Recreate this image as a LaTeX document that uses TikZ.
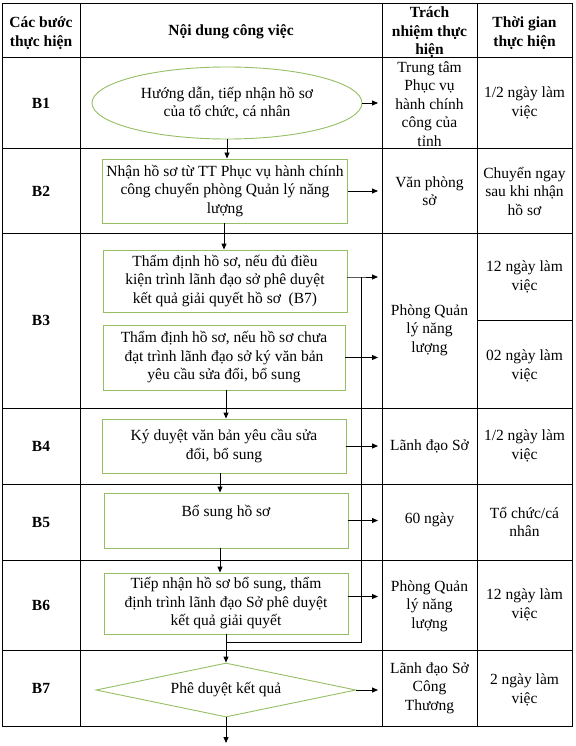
\documentclass[tikz,border=0pt]{standalone}
\usepackage{fontspec}
\setmainfont{Liberation Serif}
\usetikzlibrary{arrows.meta,shapes.geometric}
\definecolor{boxgreen}{RGB}{150,190,100}
\begin{document}
\begin{tikzpicture}[x=1pt,y=-1pt,
  txt/.style={font=\fontsize{15.5}{18.5}\selectfont, align=center, inner sep=0pt},
  hdr/.style={txt, font=\fontsize{15.5}{18.5}\selectfont\bfseries},
  gridline/.style={line width=1pt, black},
  gbox/.style={draw=boxgreen, line width=0.9pt, txt},
  arr/.style={-{Triangle[length=6pt,width=5pt]}, line width=0.9pt},
  conn/.style={line width=0.9pt}
]
\useasboundingbox (0,0) rectangle (575,746);
% table grid
\draw[gridline] (2.5,4) rectangle (572,726);
\foreach \x in {80,382,477} \draw[gridline] (\x,4) -- (\x,726);
\foreach \y in {58,149,233,408,484,560,650} \draw[gridline] (2.5,\y) -- (572,\y);
\draw[gridline] (477,320) -- (572,320);
% header
\node[hdr] (h1) at (41,33) {Các bước\\thực hiện};
\node[hdr] (h2) at (231,32) {Nội dung công việc};
\node[hdr] (h3) at (429.5,32.5) {Trách\\nhiệm thực\\hiện};
\node[hdr] (h4) at (524.5,33) {Thời gian\\thực hiện};
% step labels
\node[hdr] (b1) at (41,103.5) {B1};
\node[hdr] (b2) at (41,191) {B2};
\node[hdr] (b3) at (41,320) {B3};
\node[hdr] (b4) at (41,446) {B4};
\node[hdr] (b5) at (41,522) {B5};
\node[hdr] (b6) at (41,605) {B6};
\node[hdr] (b7) at (41,688) {B7};
% flow shapes
\node[gbox, ellipse, minimum width=270, minimum height=72] (s1) at (227,103) {Hướng dẫn, tiếp nhận hồ sơ\\của tổ chức, cá nhân};
\node[gbox, minimum width=245, minimum height=64] (s2) at (225,191) {Nhận hồ sơ từ TT Phục vụ hành chính\\công chuyển phòng Quản lý năng\\lượng};
\node[gbox, minimum width=244, minimum height=62] (s3a) at (225,281) {Thẩm định hồ sơ, nếu đủ điều\\kiện trình lãnh đạo sở phê duyệt\\kết quả giải quyết hồ sơ\ \ (B7)};
\node[gbox, minimum width=242, minimum height=65] (s3b) at (224,357.5) {Thẩm định hồ sơ, nếu hồ sơ chưa\\đạt trình lãnh đạo sở ký văn bản\\yêu cầu sửa đổi, bổ sung};
\node[gbox, minimum width=244, minimum height=54] (s4) at (224,446) {Ký duyệt văn bản yêu cầu sửa\\đổi, bổ sung};
\node[gbox, minimum width=244, minimum height=55] (s5) at (226,520.5) {Bổ sung hồ sơ\\\mbox{}};
\node[gbox, minimum width=244, minimum height=61] (s6) at (226,603.5) {Tiếp nhận hồ sơ bổ sung, thẩm\\định trình lãnh đạo Sở phê duyệt\\kết quả giải quyết};
\node[gbox, diamond, aspect=4.8, minimum width=260, minimum height=54] (s7) at (226,690) {Phê duyệt kết quả};
% responsibility / time columns
\node[txt] (r1) at (429.5,104) {Trung tâm\\Phục vụ\\hành chính\\công của\\tỉnh};
\node[txt] (t1) at (524.5,103) {1/2 ngày làm\\việc};
\node[txt] (r2) at (429.5,191) {Văn phòng\\sở};
\node[txt] (t2) at (524.5,191) {Chuyển ngay\\sau khi nhận\\hồ sơ};
\node[txt] (r3) at (429.5,330) {Phòng Quản\\lý năng\\lượng};
\node[txt] (t3a) at (524.5,277) {12 ngày làm\\việc};
\node[txt] (t3b) at (524.5,366) {02 ngày làm\\việc};
\node[txt] (r4) at (429.5,446) {Lãnh đạo Sở};
\node[txt] (t4) at (524.5,446) {1/2 ngày làm\\việc};
\node[txt] (r5) at (429.5,520) {60 ngày};
\node[txt] (t5) at (524.5,522) {Tổ chức/cá\\nhân};
\node[txt] (r6) at (429.5,606) {Phòng Quản\\lý năng\\lượng};
\node[txt] (t6) at (524.5,605) {12 ngày làm\\việc};
\node[txt] (r7) at (429.5,688) {Lãnh đạo Sở\\Công\\Thương};
\node[txt] (t7) at (524.5,690) {2 ngày làm\\việc};
% helper coordinates
\coordinate (tip) at (378,0);
\coordinate (j) at (361,277);
\coordinate (k) at (361,642);
\coordinate (fin) at (226,743);
% right arrows
\draw[arr] (s1.east) -- (s1.east -| tip);
\draw[arr] (s2.east) -- (s2.east -| tip);
\draw[arr] ([yshift=4pt]s3a.east) -- (j) -- (j -| tip);
\draw[arr] (s3b.east) -- (s3b.east -| tip);
\draw[arr] (s4.east) -- (s4.east -| tip);
\draw[arr] (s5.east) -- (s5.east -| tip);
\draw[arr] ([yshift=7pt]s6.east) -- ([yshift=7pt]s6.east -| tip);
\draw[arr] (s7.east) -- (s7.east -| tip);
% loop line
\draw[conn] (j) -- (k) -- (k -| s6.south);
% down arrows
\draw[arr] (s1.south) -- (s1.south |- s2.north);
\draw[arr] ([xshift=-1pt]s2.south) -- ([xshift=-1pt]s2.south |- s3a.north);
\draw[arr] ([xshift=2pt]s3b.south) -- ([xshift=2pt]s3b.south |- s4.north);
\draw[arr] ([xshift=-4pt]s4.south) -- ([xshift=-4pt]s4.south |- s5.north);
\draw[arr] ([xshift=-6pt]s5.south) -- ([xshift=-6pt]s5.south |- s6.north);
\draw[arr] (s6.south) -- (s6.south |- s7.north);
\draw[arr] (s7.south) -- (fin);
\end{tikzpicture}
\end{document}
